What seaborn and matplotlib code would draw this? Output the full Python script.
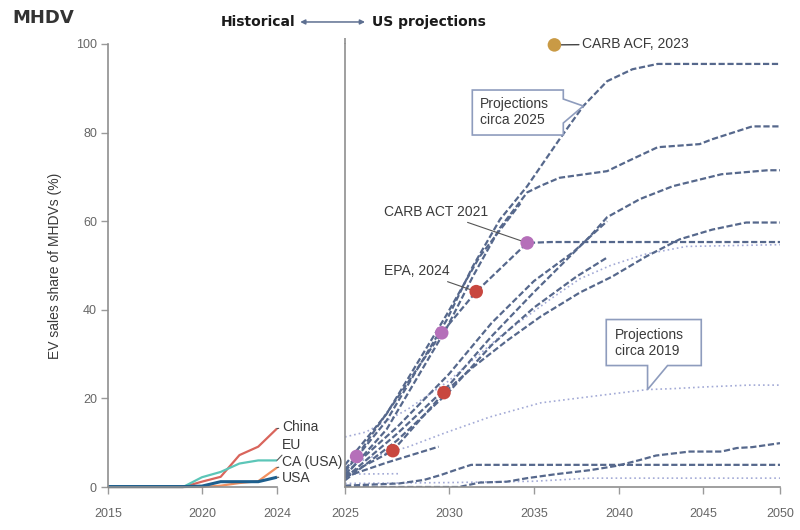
import numpy as np
import pandas as pd
import matplotlib
matplotlib.use("Agg")
import matplotlib.pyplot as plt
import matplotlib.transforms as mtransforms
from matplotlib.patches import Polygon
import seaborn as sns

sns.set_theme(style="white")
plt.rcParams["font.family"] = ["Liberation Sans", "DejaVu Sans"]

# ---------------------------------------------------------------- data
# Historical EV sales share of medium- and heavy-duty vehicles (%)
hist_years = list(range(2015, 2025))
china = [0, 0, 0, 0, 0, 1.2, 2.3, 7.2, 9.1, 13.2]
eu = [0, 0, 0, 0, 0, 2.2, 3.4, 5.3, 6.0, 6.0]
ca_usa = [0, 0, 0, 0, 0, 0, 0.3, 0.9, 1.3, 4.4]
usa = [0.1, 0.1, 0.1, 0.1, 0.1, 0.2, 1.2, 1.2, 1.2, 2.2]
regions = ["China", "EU", "CA (USA)", "USA"]

# US projections published circa 2025: (year, share %)
p25_1 = [(2025, 3.5), (2027, 15), (2029.9, 37.8), (2031.4, 49.8), (2033, 60.4),
         (2034.6, 67.9), (2036.5, 78.5), (2037.9, 86), (2039.3, 91.6),
         (2040.8, 94.3), (2042.3, 95.5), (2050, 95.5)]
p25_2 = [(2025, 2.5), (2027, 13), (2029.9, 36), (2031.4, 47.5), (2033, 58.5),
         (2034.6, 66.5), (2035.4, 68), (2036.5, 69.8), (2039.3, 71.3),
         (2040.5, 73.5), (2042.3, 76.7), (2044.8, 77.4), (2045.6, 78.5),
         (2048.2, 81.4), (2050, 81.4)]
p25_3 = [(2025, 4), (2025.56, 6.9), (2027.5, 20), (2029.65, 34.8),
         (2031.6, 44.1), (2034.6, 55.1), (2036, 55.3), (2050, 55.3)]
p25_4 = [(2025, 5), (2027, 16.5), (2029.9, 39), (2031.8, 52), (2034.2, 64)]
p25_5 = [(2025, 2), (2027.5, 12), (2030, 23), (2032.5, 34), (2035, 44),
         (2038.3, 56.6), (2039.3, 60.9), (2041.25, 65), (2043.2, 67.9),
         (2046.2, 70.6), (2049.2, 71.5), (2050, 71.5)]
p25_6 = [(2025, 3), (2027.5, 13.5), (2030, 25.5), (2032.5, 37), (2035, 46.5),
         (2037.3, 53), (2039.3, 60)]
p25_7 = [(2025, 1.5), (2027.5, 10.5), (2030, 21.5), (2032.5, 32), (2035, 40.5),
         (2037.5, 47.5), (2039.3, 51.8)]
p25_8 = [(2025, 2.5), (2027.3, 8.2), (2029.76, 21.3), (2031.4, 27),
         (2033.4, 33), (2035.4, 38.5), (2037.7, 43.9), (2039.6, 47.5),
         (2041.6, 52), (2043.6, 55.9), (2045.6, 58.1), (2047.8, 59.7),
         (2050, 59.7)]
p25_9 = [(2025, 2.3), (2027, 5.5), (2029.5, 9.1)]
p25_10 = [(2025, 0.3), (2027.6, 0.8), (2028.8, 1.6), (2029.6, 2.7),
          (2030.5, 4), (2031.3, 5), (2050, 5)]
p25_11 = [(2025, 0), (2030.6, 0), (2031.8, 1.0), (2033.4, 1.2), (2034.6, 2),
          (2036.3, 2.9), (2038.3, 3.8), (2039.9, 4.8), (2041.25, 6.1),
          (2042.2, 7.1), (2044.2, 8), (2046.2, 8), (2047.2, 8.8),
          (2048.2, 9), (2050, 9.9)]

# US projections published circa 2019
p19_1 = [(2025, 11.3), (2026, 12.4), (2028, 17.5), (2030, 24), (2033, 34),
         (2036, 42.5), (2037.7, 47), (2039.5, 50), (2041.5, 52.5),
         (2044, 54.3), (2050, 54.7)]
p19_2 = [(2025, 4.5), (2026.3, 6.8), (2028, 9), (2029.8, 12.2),
         (2032.4, 15.8), (2035.4, 19), (2038.3, 20.4), (2041.7, 22),
         (2043.2, 22.2), (2045.2, 22.6), (2048, 23), (2050, 23)]
p19_3 = [(2025, 0.8), (2030, 1.0), (2035, 1.3), (2038.3, 2.0), (2050, 2.0)]
p19_4 = [(2025, 2.9), (2027.6, 3.0)]

# Policy targets
carb_act_years = [2025.56, 2029.65, 2034.6]
carb_act_share = [6.9, 34.8, 55.1]
epa_years = [2027.3, 2029.76, 2031.6]
epa_share = [8.2, 21.3, 44.1]
carb_acf_years = [2036.2]
carb_acf_share = [99.8]

# ---------------------------------------------------------------- tables
hist = pd.DataFrame({
    "year": hist_years * 4,
    "share": china + eu + ca_usa + usa,
    "region": [r for r in regions for _ in hist_years],
})

rows = []
for vintage, group in [("circa 2019", [p19_1, p19_2, p19_3, p19_4]),
                       ("circa 2025", [p25_1, p25_2, p25_3, p25_4, p25_5,
                                       p25_6, p25_7, p25_8, p25_9, p25_10,
                                       p25_11])]:
    for i, series in enumerate(group):
        for yr, val in series:
            rows.append((vintage, f"{vintage} #{i}", yr, val))
proj = pd.DataFrame(rows, columns=["vintage", "series", "year", "share"])

targets = pd.DataFrame({
    "year": carb_act_years + epa_years + carb_acf_years,
    "share": carb_act_share + epa_share + carb_acf_share,
    "policy": ["CARB ACT 2021"] * 3 + ["EPA, 2024"] * 3 + ["CARB ACF, 2023"],
})

# ---------------------------------------------------------------- styling
TEXT = "#3a3a3a"
TICK = "#666666"
SPINE = "#8f8f8f"
DASH_COL = "#56688c"
DOT_COL = "#a3aad6"
BOX_COL = "#8e9cbd"

fig = plt.figure(figsize=(8, 5.3), dpi=100)
W, H = 800, 530
ax_h = fig.add_axes([108 / W, 43 / H, 169 / W, 443 / H])
ax_p = fig.add_axes([345 / W, 43 / H, 435 / W, 443 / H])

# The projection axis is stretched unevenly between its labelled years
axis_years = [1900, 2025, 2030, 2035, 2040, 2045, 2050, 2200]
axis_offsets = [-2600, 0, 104, 189, 274, 358, 435, 2745]


def _fwd(x):
    return np.interp(x, axis_years, axis_offsets)


def _inv(p):
    return np.interp(p, axis_offsets, axis_years)


ax_p.set_xscale("function", functions=(_fwd, _inv))

for ax in (ax_h, ax_p):
    ax.set_ylim(0, 100)
    for side in ("top", "right"):
        ax.spines[side].set_visible(False)
    for side in ("left", "bottom"):
        ax.spines[side].set_color(SPINE)
        ax.spines[side].set_linewidth(1.2)
    ax.set_facecolor("none")

ax_h.set_xlim(2015, 2024)
ax_p.set_xlim(2025, 2050)

# ---------------------------------------------------------------- historical
hist_palette = {"China": "#d9655c", "EU": "#5cc6b8",
                "CA (USA)": "#f29160", "USA": "#1d5f8e"}
hist_sizes = {"China": 1.6, "EU": 1.6, "CA (USA)": 1.6, "USA": 2.2}
sns.lineplot(data=hist, x="year", y="share", hue="region", size="region",
             hue_order=regions, size_order=regions, palette=hist_palette,
             sizes=hist_sizes, legend=False, ax=ax_h)
for ln in ax_h.lines:
    ln.set_clip_on(False)
    ln.set_solid_capstyle("butt")

label_offsets = {"China": (3.6, 1.4), "EU": (3.6, 11.2),
                 "CA (USA)": (3.6, 3.9), "USA": (3.6, -0.5)}
for r, vals in zip(regions, [china, eu, ca_usa, usa]):
    ax_h.annotate(r, xy=(hist_years[-1], vals[-1]), xytext=label_offsets[r],
                  textcoords="offset points", ha="left", va="center",
                  fontsize=10, color=TEXT, annotation_clip=False,
                  arrowprops=dict(arrowstyle="-", color="#555555", lw=0.8,
                                  shrinkA=0, shrinkB=0))

ax_h.set_xticks([2015, 2020, 2024])
ax_h.set_yticks([0, 20, 40, 60, 80, 100])
ax_h.tick_params(axis="both", which="both", length=5, width=1, color="#9a9a9a",
                 labelsize=9, labelcolor=TICK, direction="out")
ax_h.tick_params(axis="y", pad=3, left=True)
ax_h.tick_params(axis="x", pad=10, bottom=True)
ax_h.set_xlabel("")
ax_h.set_ylabel("EV sales share of MHDVs (%)", fontsize=10, color=TEXT)
ax_h.yaxis.set_label_coords(-0.27, 0.5)

# ---------------------------------------------------------------- projections
sns.lineplot(data=proj, x="year", y="share", hue="vintage", style="vintage",
             size="vintage", units="series", estimator=None,
             hue_order=["circa 2019", "circa 2025"],
             palette={"circa 2019": DOT_COL, "circa 2025": DASH_COL},
             dashes={"circa 2019": (1, 1.8), "circa 2025": (2.8, 1.2)},
             sizes={"circa 2019": 1.2, "circa 2025": 1.6},
             legend=False, ax=ax_p)

sns.scatterplot(data=targets, x="year", y="share", hue="policy",
                palette={"CARB ACT 2021": "#b56fb9", "EPA, 2024": "#c8473f",
                         "CARB ACF, 2023": "#c99a45"},
                s=95, linewidth=0, legend=False, ax=ax_p, zorder=5,
                clip_on=False)

ax_p.annotate("CARB ACT 2021", xy=(carb_act_years[2], carb_act_share[2]),
              xytext=(-27.9, 22.5), textcoords="offset points", ha="right",
              va="center", fontsize=10, color=TEXT,
              arrowprops=dict(arrowstyle="-", color="#555555", lw=0.8,
                              shrinkA=1, shrinkB=4.5))
ax_p.annotate("EPA, 2024", xy=(epa_years[2], epa_share[2]),
              xytext=(-19.2, 14.9), textcoords="offset points", ha="right",
              va="center", fontsize=10, color=TEXT,
              arrowprops=dict(arrowstyle="-", color="#555555", lw=0.8,
                              shrinkA=1, shrinkB=4.5))
ax_p.annotate("CARB ACF, 2023", xy=(carb_acf_years[0], carb_acf_share[0]),
              xytext=(20, 0.5), textcoords="offset points", ha="left",
              va="center", fontsize=10, color=TEXT, annotation_clip=False,
              arrowprops=dict(arrowstyle="-", color="#444444", lw=1.0,
                              shrinkA=0, shrinkB=4))


def callout(ax, tip, verts_px, text, text_px):
    """Speech-bubble box whose pointer ends at a data point."""
    trans = fig.dpi_scale_trans + mtransforms.ScaledTranslation(
        tip[0], tip[1], ax.transData)
    verts = [(x / 100, y / 100) for x, y in verts_px]
    poly = Polygon(verts, closed=True, transform=trans, facecolor="white",
                   edgecolor=BOX_COL, linewidth=1.2, zorder=6, clip_on=False,
                   joinstyle="miter")
    ax.add_artist(poly)
    ax.annotate(text, xy=tip, xytext=(text_px[0] * 0.72, text_px[1] * 0.72),
                textcoords="offset points", ha="left", va="center",
                fontsize=10, color=TEXT, linespacing=1.25, zorder=7,
                annotation_clip=False)


callout(ax_p, (2037.9, 86),
        [(0, 0), (-20, -17), (-20, -29), (-111, -29), (-111, 16), (-20, 16),
         (-20, 7)],
        "Projections\ncirca 2025", (-103, -6))
callout(ax_p, (2041.7, 22),
        [(0, 0), (20, 24), (53.7, 24), (53.7, 70), (-41.3, 70), (-41.3, 24),
         (0, 24)],
        "Projections\ncirca 2019", (-33, 46.5))

ax_p.set_xticks(list(range(2025, 2051, 5)))
ax_p.set_yticks([])
ax_p.tick_params(axis="x", length=5, width=1, color="#9a9a9a", labelsize=9,
                 labelcolor=TICK, pad=10, bottom=True, direction="out")
ax_p.set_xlabel("")
ax_p.set_ylabel("")
ax_p.plot([0, 0], [1.0, 1.014], transform=ax_p.transAxes, color=SPINE,
          lw=1.2, clip_on=False, solid_capstyle="butt")

# ---------------------------------------------------------------- header
hy = 1.0497
ax_p.text(-0.115, hy, "Historical", transform=ax_p.transAxes, ha="right",
          va="center", fontsize=10, fontweight="bold", family="DejaVu Sans",
          color="#1a1a1a")
ax_p.text(0.062, hy, "US projections", transform=ax_p.transAxes, ha="left",
          va="center", fontsize=10, fontweight="bold", family="DejaVu Sans",
          color="#1a1a1a")
ax_p.annotate("", xy=(0.046, hy), xytext=(-0.103, hy),
              xycoords="axes fraction", textcoords="axes fraction",
              arrowprops=dict(arrowstyle="<|-|>", color="#5d6f91", lw=1.1,
                              mutation_scale=7, shrinkA=0, shrinkB=0))
fig.text(0.015, 0.966, "MHDV", ha="left", va="center", fontsize=13,
         fontweight="bold", family="DejaVu Sans", color="#333333")

fig.savefig("out.png", dpi=100, facecolor="white")
